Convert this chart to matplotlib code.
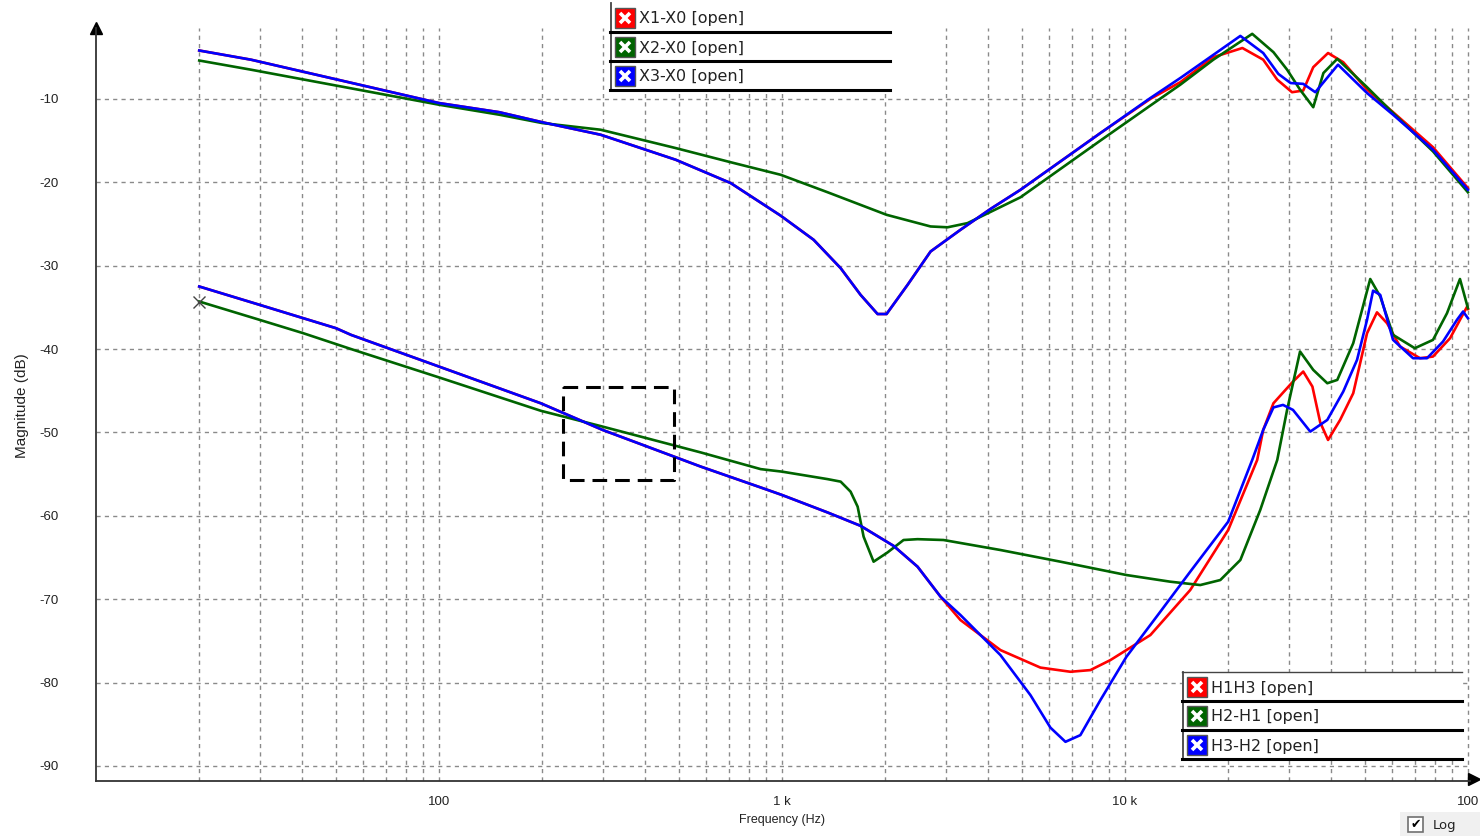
import numpy as np
import matplotlib
matplotlib.use('Agg')
import matplotlib.pyplot as plt
from matplotlib.patches import Rectangle
from matplotlib.lines import Line2D
from matplotlib.ticker import FixedLocator, FixedFormatter, NullFormatter

# ---------------- data (frequency in Hz, magnitude in dB) ----------------
x3_f = [20, 28.3, 100, 150, 200, 296, 490, 709, 991, 1237, 1483, 1695, 1900, 2018, 2324, 2712,
        3315, 4055, 4960, 8480, 11860, 14500, 21700, 25300, 28000, 30400, 33100, 35900, 41800,
        50800, 60500, 79100, 100000]
x3_db = [-4.2, -5.3, -10.5, -11.6, -12.8, -14.3, -17.3, -20.1, -24.0, -26.9, -30.3, -33.5, -35.8,
         -35.8, -32.3, -28.3, -25.7, -23.2, -20.9, -14.1, -9.9, -7.5, -2.45, -4.5, -7.0, -8.1,
         -8.2, -9.2, -5.9, -9.3, -11.9, -16.1, -20.9]

x1_f = [20, 28.3, 100, 150, 200, 296, 490, 709, 991, 1237, 1483, 1695, 1900, 2018, 2324, 2712,
        3315, 4055, 4960, 8480, 11860, 14500, 18100, 22000, 25300, 27800, 30700, 33100, 35400,
        39100, 43300, 50800, 60500, 79100, 100000]
x1_db = [-4.2, -5.3, -10.5, -11.6, -12.8, -14.3, -17.3, -20.1, -24.0, -26.9, -30.3, -33.5, -35.8,
         -35.8, -32.3, -28.3, -25.7, -23.2, -20.9, -14.1, -10.0, -8.0, -5.0, -3.9, -5.3, -7.7,
         -9.2, -9.0, -6.2, -4.5, -5.6, -8.9, -11.6, -15.8, -20.7]

x2_f = [20, 28.3, 100, 150, 200, 296, 490, 709, 991, 1359, 2018, 2712, 3039, 3475, 4960, 8480,
        11860, 14500, 18100, 23500, 27100, 29700, 32400, 35400, 37900, 41600, 50800, 60500,
        79100, 100000]
x2_db = [-5.4, -6.5, -10.7, -11.9, -12.9, -13.7, -15.9, -17.6, -19.1, -21.2, -23.9, -25.3, -25.4,
         -24.9, -21.8, -15.0, -10.8, -8.3, -5.3, -2.2, -4.4, -6.5, -8.9, -11.0, -6.9, -5.2, -8.6,
         -11.7, -16.3, -21.2]

h3_f = [20, 30, 40.2, 50.1, 55.4, 100, 198, 300, 580, 867, 1000, 1359, 1695, 2115, 2485, 2900,
        3315, 4335, 5302, 6063, 6707, 7413, 8480, 10100, 12680, 15500, 20000, 23500, 25300,
        27100, 28900, 30900, 34700, 38900, 43300, 47500, 50800, 52900, 55500, 60500, 69200,
        76000, 84600, 92900, 96800, 100000]
h3_db = [-32.5, -34.7, -36.3, -37.5, -38.3, -42.1, -46.5, -49.7, -54.1, -56.6, -57.5, -59.6,
         -61.2, -63.6, -66.1, -69.7, -71.9, -76.7, -81.5, -85.4, -87.1, -86.3, -82.1, -76.9,
         -71.5, -66.7, -60.7, -53.3, -49.7, -47.0, -46.7, -47.3, -49.9, -48.5, -45.1, -41.3,
         -36.5, -33.0, -33.5, -38.9, -41.1, -41.1, -39.1, -36.5, -35.5, -36.3]

h1_f = [20, 30, 40.2, 50.1, 55.4, 100, 198, 300, 580, 867, 1000, 1359, 1695, 2115, 2485, 2900,
        3315, 4335, 5669, 6934, 7929, 9069, 11860, 15500, 20000, 24300, 25300, 27100, 30900,
        33100, 35200, 37100, 39100, 42400, 46300, 50800, 54300, 58100, 63400, 72500, 79100,
        88700, 99500, 100000]
h1_db = [-32.5, -34.7, -36.3, -37.5, -38.3, -42.1, -46.5, -49.7, -54.1, -56.6, -57.5, -59.6,
         -61.2, -63.6, -66.1, -69.7, -72.5, -76.1, -78.2, -78.7, -78.5, -77.3, -74.3, -68.9,
         -61.7, -53.3, -49.7, -46.5, -43.9, -42.7, -44.5, -48.8, -50.9, -48.5, -45.3, -38.1,
         -35.6, -36.9, -39.7, -41.1, -40.9, -38.7, -34.9, -35.2]

h2_f = [20, 30, 40.2, 55.4, 100, 198, 300, 580, 867, 1000, 1359, 1483, 1585, 1662, 1730, 1850,
        2030, 2262, 2485, 2958, 4335, 6486, 10100, 13560, 16580, 18970, 21700, 24800, 27800,
        29700, 32400, 35400, 38900, 41600, 46300, 51900, 55500, 60500, 70000, 79100, 86900,
        94800, 100000]
h2_db = [-34.3, -36.5, -38.1, -40.0, -43.4, -47.4, -49.3, -52.4, -54.4, -54.7, -55.6, -55.9,
         -57.1, -58.9, -62.5, -65.5, -64.4, -62.9, -62.8, -62.9, -64.1, -65.5, -67.1, -67.9,
         -68.3, -67.7, -65.3, -59.3, -53.3, -47.3, -40.3, -42.5, -44.1, -43.7, -39.3, -31.6,
         -33.7, -38.3, -39.9, -38.9, -35.7, -31.6, -35.1]

labels_top = ['X1-X0 [open]', 'X2-X0 [open]', 'X3-X0 [open]']
labels_bottom = ['H1H3 [open]', 'H2-H1 [open]', 'H3-H2 [open]']
y_ticks = [-10, -20, -30, -40, -50, -60, -70, -80, -90]
x_major = [100, 1000, 10000, 100000]
x_major_labels = ['100', '1 k', '10 k', '100']
x_minor = [m * 10 ** k for k in range(1, 5) for m in range(2, 10)]
cursor_f, cursor_db = 20, -34.3
box_f = [230, 484]
box_db = [-44.5, -55.7]

RED, GREEN, BLUE = '#ff0000', '#006400', '#0000ff'

# ---------------- figure ----------------
W, H = 1480, 836
fig = plt.figure(figsize=(W / 100, H / 100), dpi=100)
fig.patch.set_facecolor('white')


def fx(x):
    return x / W


def fy(y):
    return 1 - y / H


ax = fig.add_axes([fx(96), fy(781), fx(1470) - fx(96), fy(28) - fy(781)])
ax.set_xscale('log')
ax.set_xlim(10, 101400)
ax.set_ylim(-91.8, -1.5)

for s in ['top', 'right']:
    ax.spines[s].set_visible(False)
for s in ['left', 'bottom']:
    ax.spines[s].set_color('#333333')
    ax.spines[s].set_linewidth(1.3)

ax.xaxis.set_major_locator(FixedLocator(x_major))
ax.xaxis.set_major_formatter(FixedFormatter(x_major_labels))
ax.xaxis.set_minor_locator(FixedLocator(x_minor))
ax.xaxis.set_minor_formatter(NullFormatter())
ax.yaxis.set_major_locator(FixedLocator(y_ticks))
ax.yaxis.set_major_formatter(FixedFormatter([str(v) for v in y_ticks]))

gkw = dict(color='#8a8a8a', linestyle=(0, (3, 3)), linewidth=1.0)
ax.grid(True, which='both', axis='x', **gkw)
ax.grid(True, which='major', axis='y', **gkw)
ax.set_axisbelow(True)
ax.tick_params(axis='both', which='both', length=0, labelsize=9.5, labelcolor='#222222')
ax.tick_params(axis='x', pad=11)
ax.tick_params(axis='y', pad=27)
for lab in ax.get_xticklabels() + ax.get_yticklabels():
    lab.set_fontfamily('Liberation Sans')

# arrows on axes
ax.plot([0], [1], marker='^', markersize=9, color='black', transform=ax.transAxes, clip_on=False)
ax.plot([1.003], [0.002], marker='>', markersize=9, color='black', transform=ax.transAxes,
        clip_on=False)

lw = 1.9
ax.plot(x1_f, x1_db, color=RED, lw=lw)
ax.plot(x2_f, x2_db, color=GREEN, lw=lw)
ax.plot(x3_f, x3_db, color=BLUE, lw=lw)
ax.plot(h1_f, h1_db, color=RED, lw=lw)
ax.plot(h2_f, h2_db, color=GREEN, lw=lw)
ax.plot(h3_f, h3_db, color=BLUE, lw=lw)

ax.plot([cursor_f], [cursor_db], marker='x', markersize=8, color='#444444', mew=1.0)

ax.plot([box_f[0], box_f[1], box_f[1], box_f[0], box_f[0]],
        [box_db[0], box_db[0], box_db[1], box_db[1], box_db[0]],
        color='black', lw=2.2, linestyle=(0, (4.8, 2.6)))

# axis labels
fig.text(fx(22), fy(406), 'Magnitude (dB)', rotation=90, ha='center', va='center',
         fontsize=11, family='Liberation Sans', color='#222222')
fig.text(fx(782), fy(820), 'Frequency (Hz)', ha='center', va='center',
         fontsize=9, family='Liberation Sans', color='#222222')


# ---------------- custom legends ----------------
def legend_block(x0, x1, y_top, labels, colors, top_line):
    row_h = 29
    fig.patches.append(Rectangle((fx(x0), fy(y_top + 3 * row_h)), fx(x1) - fx(x0),
                                 fy(y_top) - fy(y_top + 3 * row_h), transform=fig.transFigure,
                                 facecolor='white', edgecolor='none', zorder=5))
    fig.lines.append(Line2D([fx(x0 + 1), fx(x0 + 1)], [fy(y_top), fy(y_top + 3 * row_h)],
                            transform=fig.transFigure, color='#444444', lw=1.3, zorder=6))
    if top_line:
        fig.lines.append(Line2D([fx(x0), fx(x1)], [fy(y_top), fy(y_top)],
                                transform=fig.transFigure, color='#444444', lw=1.0, zorder=6))
    for i, (lab, c) in enumerate(zip(labels, colors)):
        yt = y_top + i * row_h
        yb = yt + row_h
        fig.lines.append(Line2D([fx(x0), fx(x1)], [fy(yb), fy(yb)], transform=fig.transFigure,
                                color='black', lw=2.2, zorder=6))
        ix0, iy0 = x0 + 5, yt + 5
        fig.patches.append(Rectangle((fx(ix0), fy(iy0 + 20)), fx(20), 20 / H,
                                     transform=fig.transFigure, facecolor=c,
                                     edgecolor='#555555', lw=1.0, zorder=7))
        m = 5
        for (ax_, ay_, bx_, by_) in [(ix0 + m, iy0 + m, ix0 + 20 - m, iy0 + 20 - m),
                                     (ix0 + m, iy0 + 20 - m, ix0 + 20 - m, iy0 + m)]:
            fig.lines.append(Line2D([fx(ax_), fx(bx_)], [fy(ay_), fy(by_)],
                                    transform=fig.transFigure, color='white', lw=2.6,
                                    solid_capstyle='butt', zorder=8))
        fig.text(fx(x0 + 29), fy(yt + 16), lab, ha='left', va='center', fontsize=11.5,
                 family='DejaVu Sans', color='#222222', zorder=8)


legend_block(610, 890, 3, labels_top, [RED, GREEN, BLUE], False)
legend_block(1182, 1462, 672, labels_bottom, [RED, GREEN, BLUE], True)

# ---------------- Log checkbox ----------------
fig.patches.append(Rectangle((fx(1400), 0), fx(80), fy(812), transform=fig.transFigure,
                             facecolor='#f0f0f0', edgecolor='none', zorder=5))
fig.patches.append(Rectangle((fx(1408), fy(832)), fx(15), 15 / H, transform=fig.transFigure,
                             facecolor='white', edgecolor='#707070', lw=1.2, zorder=6))
fig.text(fx(1415.5), fy(824.5), '\u2714', ha='center', va='center', fontsize=9,
         family='DejaVu Sans', color='black', zorder=7)
fig.text(fx(1433), fy(825), 'Log', ha='left', va='center', fontsize=9.5,
         family='DejaVu Sans', color='#222222', zorder=7)

fig.savefig('out.png', dpi=100)
